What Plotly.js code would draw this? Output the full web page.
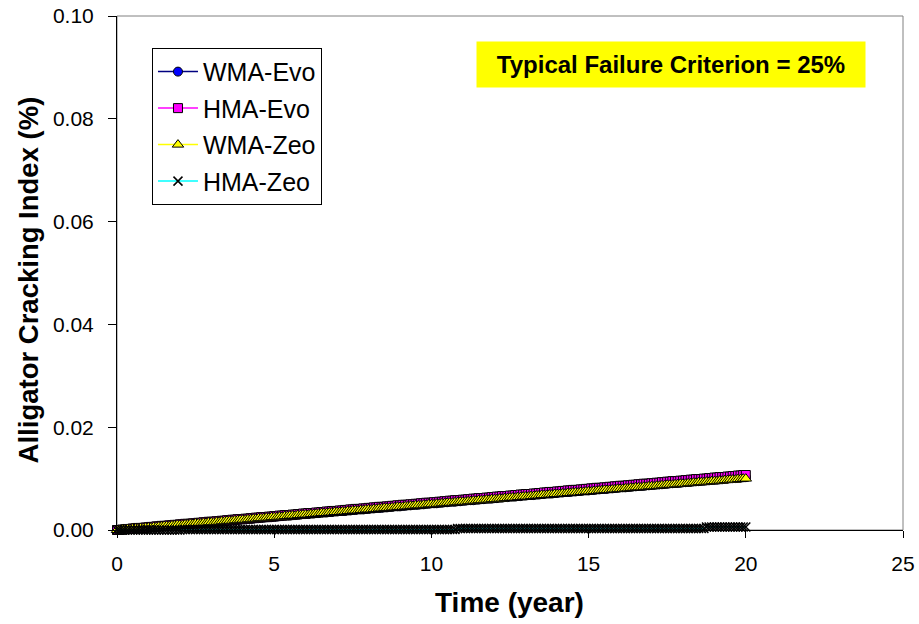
<!DOCTYPE html>
<html>
<head>
<meta charset="utf-8">
<script src="https://cdn.plot.ly/plotly-3.0.1.min.js"></script>
<style>html,body{margin:0;padding:0;background:#fff;}#chart{width:919px;height:624px;}</style>
</head>
<body>
<div id="chart"></div>
<script>
// Monthly values, 0 .. 240 months (0 .. 20 years). Values are in units of 0.0001 %.
const VALUE_UNIT = 0.0001;
const seriesNames = ['WMA-Evo', 'HMA-Evo', 'WMA-Zeo', 'HMA-Zeo'];
const xTicks = [0, 5, 10, 15, 20, 25];
const yTicks = [0, 0.02, 0.04, 0.06, 0.08, 0.10];
const xTitle = 'Time (year)';
const yTitle = 'Alligator Cracking Index (%)';
const noteText = 'Typical Failure Criterion = 25%';

const wmaEvo = [0,
  0,1,1,2,2,3,3,3,4,4,5,5,
  6,6,6,7,7,8,8,9,9,9,10,10,
  11,11,12,12,12,13,13,14,14,15,15,15,
  16,16,17,17,18,18,18,19,19,20,20,21,
  21,22,22,22,23,23,24,24,25,25,25,26,
  26,27,27,28,28,28,29,29,30,30,31,31,
  31,32,32,33,33,34,34,34,35,35,36,36,
  37,37,37,38,38,39,39,40,40,40,41,41,
  42,42,43,43,43,44,44,45,45,46,46,46,
  47,47,48,48,49,49,49,50,50,51,51,52,
  52,52,53,53,54,54,55,55,55,56,56,57,
  57,58,58,58,59,59,60,60,61,61,61,62,
  62,63,63,64,64,65,65,65,66,66,67,67,
  68,68,68,69,69,70,70,71,71,71,72,72,
  73,73,74,74,74,75,75,76,76,77,77,77,
  78,78,79,79,80,80,80,81,81,82,82,83,
  83,83,84,84,85,85,86,86,86,87,87,88,
  88,89,89,89,90,90,91,91,92,92,92,93,
  93,94,94,95,95,95,96,96,97,97,98,98,
  98,99,99,100,100,101,101,101,102,102,103,103];

const hmaEvo = [0,
  0,1,1,2,2,3,3,4,4,4,5,5,
  6,6,7,7,8,8,8,9,9,10,10,11,
  11,12,12,12,13,13,14,14,15,15,16,16,
  16,17,17,18,18,19,19,20,20,21,21,21,
  22,22,23,23,24,24,25,25,25,26,26,27,
  27,28,28,29,29,29,30,30,31,31,32,32,
  33,33,33,34,34,35,35,36,36,37,37,37,
  38,38,39,39,40,40,41,41,41,42,42,43,
  43,44,44,45,45,45,46,46,47,47,48,48,
  49,49,49,50,50,51,51,52,52,53,53,53,
  54,54,55,55,56,56,57,57,58,58,58,59,
  59,60,60,61,61,62,62,62,63,63,64,64,
  65,65,66,66,66,67,67,68,68,69,69,70,
  70,70,71,71,72,72,73,73,74,74,74,75,
  75,76,76,77,77,78,78,78,79,79,80,80,
  81,81,82,82,82,83,83,84,84,85,85,86,
  86,86,87,87,88,88,89,89,90,90,90,91,
  91,92,92,93,93,94,94,95,95,95,96,96,
  97,97,98,98,99,99,99,100,100,101,101,102,
  102,103,103,103,104,104,105,105,106,106,107,107];

const wmaZeo = [0,
  0,1,1,2,2,3,3,3,4,4,5,5,
  5,6,6,7,7,8,8,8,9,9,10,10,
  10,11,11,12,12,13,13,13,14,14,15,15,
  15,16,16,17,17,18,18,18,19,19,20,20,
  20,21,21,22,22,23,23,23,24,24,25,25,
  25,26,26,27,27,28,28,28,29,29,30,30,
  30,31,31,32,32,33,33,33,34,34,35,35,
  35,36,36,37,37,38,38,38,39,39,40,40,
  40,41,41,42,42,43,43,43,44,44,45,45,
  45,46,46,47,47,48,48,48,49,49,50,50,
  50,51,51,52,52,53,53,53,54,54,55,55,
  55,56,56,57,57,58,58,58,59,59,60,60,
  60,61,61,62,62,63,63,63,64,64,65,65,
  65,66,66,67,67,68,68,68,69,69,70,70,
  70,71,71,72,72,73,73,73,74,74,75,75,
  75,76,76,77,77,78,78,78,79,79,80,80,
  80,81,81,82,82,83,83,83,84,84,85,85,
  85,86,86,87,87,88,88,88,89,89,90,90,
  90,91,91,92,92,93,93,93,94,94,95,95,
  95,96,96,97,97,98,98,98,99,99,100,100];

const hmaZeo = [0,
  0,0,0,0,0,0,0,0,0,0,0,0,
  0,0,0,0,0,0,0,0,0,0,0,0,
  1,1,1,1,1,1,1,1,1,1,1,1,
  1,1,1,1,1,1,1,1,1,1,1,1,
  1,1,1,1,1,1,1,1,1,1,1,1,
  1,1,1,1,1,1,1,1,1,1,1,1,
  1,1,1,1,1,1,1,1,1,1,1,1,
  1,1,1,1,1,1,1,1,1,1,1,1,
  1,1,1,1,1,1,1,1,1,1,1,1,
  1,1,1,1,1,1,1,1,1,1,1,1,
  1,1,1,1,1,1,1,1,1,3,3,3,
  3,3,3,3,3,3,3,3,3,3,3,3,
  3,3,3,3,3,3,3,3,3,3,3,3,
  3,3,3,3,3,3,3,3,3,3,3,3,
  3,3,3,3,3,3,3,3,3,3,3,3,
  3,3,3,3,3,3,3,3,3,3,3,3,
  3,3,3,3,3,3,3,3,3,3,3,3,
  3,3,3,3,3,3,3,3,3,3,3,3,
  3,3,3,3,3,3,3,3,6,6,6,6,
  6,6,6,6,6,6,6,6,6,6,6,6];

// time axis: month index expressed in years
const timeYears = wmaEvo.map((_, i) => i / 12);
const toPct = arr => arr.map(v => v * VALUE_UNIT);

const FONT = 'Liberation Sans, Arial, sans-serif';

const styles = [
  {line: '#000080', marker: {symbol: 'circle', color: '#0000FF', size: 9, line: {color: '#000000', width: 1}}},
  {line: '#FF00FF', marker: {symbol: 'square', color: '#FF00FF', size: 9, line: {color: '#000000', width: 1}}},
  {line: '#FFFF00', marker: {symbol: 'triangle-up', color: '#FFFF00', size: 10, line: {color: '#000000', width: 1}}},
  {line: '#00FFFF', marker: {symbol: 'x-thin', color: '#000000', size: 9, line: {color: '#000000', width: 1.5}}}
];
const allSeries = [wmaEvo, hmaEvo, wmaZeo, hmaZeo];

const traces = allSeries.map((s, i) => ({
  type: 'scatter',
  mode: 'lines+markers',
  name: seriesNames[i],
  legendgroup: 'g' + i,
  x: timeYears,
  y: toPct(s),
  line: {color: styles[i].line, width: 1.5},
  marker: styles[i].marker,
  cliponaxis: false
}));

const layout = {
  width: 919,
  height: 624,
  paper_bgcolor: '#ffffff',
  plot_bgcolor: '#ffffff',
  margin: {l: 117, r: 16, t: 16, b: 94},
  font: {family: FONT, color: '#000000'},
  showlegend: true,
  legend: {
    x: 0.0445, y: 0.938, xanchor: 'left', yanchor: 'top',
    bordercolor: '#000000', borderwidth: 1, bgcolor: '#ffffff',
    font: {family: FONT, size: 25, color: '#000000'},
    itemwidth: 40,
    tracegroupgap: 1,
    traceorder: 'grouped'
  },
  xaxis: {
    range: [0, 25],
    tickvals: xTicks,
    ticktext: xTicks.map(String),
    ticks: 'outside', ticklen: 7, tickcolor: '#000000', tickwidth: 1,
    showline: true, linecolor: '#000000', linewidth: 1,
    showgrid: false, zeroline: false,
    tickfont: {family: FONT, size: 21, color: '#000000'},
    ticklabelstandoff: 8
  },
  yaxis: {
    range: [0, 0.1],
    tickvals: yTicks,
    ticktext: yTicks.map(v => v.toFixed(2)),
    ticks: 'outside', ticklen: 8, tickcolor: '#000000', tickwidth: 1,
    showline: true, linecolor: '#000000', linewidth: 1,
    showgrid: false, zeroline: false,
    tickfont: {family: FONT, size: 21, color: '#000000'},
    ticklabelstandoff: 10
  },
  shapes: [{
    type: 'rect', xref: 'paper', yref: 'paper', x0: 0, x1: 1, y0: 0, y1: 1,
    line: {color: '#808080', width: 1}, layer: 'below'
  }],
  annotations: [{
    xref: 'paper', yref: 'paper', x: 0.705, y: 0.905,
    xanchor: 'center', yanchor: 'middle',
    text: '<b>' + noteText + '</b>',
    showarrow: false,
    font: {family: FONT, size: 24, color: '#000000'},
    bgcolor: '#FFFF00',
    width: 382, height: 39, borderpad: 3
  }, {
    xref: 'paper', yref: 'paper', x: 0.499, y: -0.142,
    xanchor: 'center', yanchor: 'middle',
    text: '<b>' + xTitle + '</b>',
    showarrow: false,
    font: {family: FONT, size: 28, color: '#000000'}
  }, {
    xref: 'paper', yref: 'paper', x: -0.113, y: 0.486,
    xanchor: 'center', yanchor: 'middle',
    textangle: -90,
    text: '<b>' + yTitle + '</b>',
    showarrow: false,
    font: {family: FONT, size: 27.5, color: '#000000'}
  }]
};

Plotly.newPlot('chart', traces, layout, {staticPlot: true, displayModeBar: false});
</script>
</body>
</html>
